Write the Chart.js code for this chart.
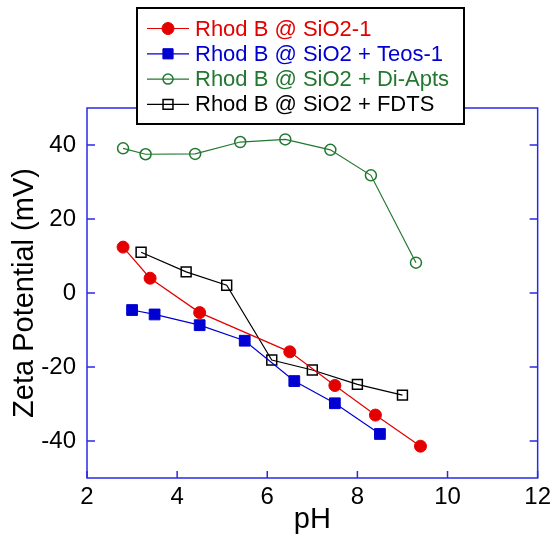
<!DOCTYPE html>
<html>
<head>
<meta charset="utf-8">
<script src="https://cdn.jsdelivr.net/npm/chart.js@4"></script>
<style>
html, body { margin: 0; padding: 0; background: #fff; }
#wrap { width: 556px; height: 537px; }
</style>
</head>
<body>
<div id="wrap"><canvas id="zetaChart"></canvas></div>
<script>
// values
const seriesNames = ['Rhod B @ SiO2-1', 'Rhod B @ SiO2 + Teos-1', 'Rhod B @ SiO2 + Di-Apts', 'Rhod B @ SiO2 + FDTS'];
const phSiO2 = [2.8, 3.4, 4.5, 6.5, 7.5, 8.4, 9.4];
const zetaSiO2 = [12.4, 4.0, -5.3, -15.9, -25.0, -33.0, -41.4];
const phTeos = [3.0, 3.5, 4.5, 5.5, 6.6, 7.5, 8.5];
const zetaTeos = [-4.6, -5.8, -8.7, -12.9, -23.8, -29.8, -38.1];
const phApts = [2.8, 3.3, 4.4, 5.4, 6.4, 7.4, 8.3, 9.3];
const zetaApts = [39.1, 37.5, 37.6, 40.8, 41.5, 38.7, 31.8, 8.2];
const phFdts = [3.2, 4.2, 5.1, 6.1, 7.0, 8.0, 9.0];
const zetaFdts = [11.0, 5.7, 2.1, -18.1, -20.8, -24.7, -27.6];
const xTicks = [2, 4, 6, 8, 10, 12];
const yTicks = [-40, -20, 0, 20, 40];

const FONT = 'Arial, "Liberation Sans", sans-serif';
const AXIS_COLOR = '#2a2ae4';

const toPoints = (xs, ys) => xs.map((x, i) => ({ x: x, y: ys[i] }));

// box around plot with inward tick marks
const framePlugin = {
    id: 'frame',
    afterDatasetsDraw(chart) {
        const { ctx, chartArea: a, scales } = chart;
        ctx.save();
        ctx.strokeStyle = AXIS_COLOR;
        ctx.lineWidth = 1.5;
        ctx.strokeRect(a.left, a.top, a.right - a.left, a.bottom - a.top);
        ctx.beginPath();
        yTicks.forEach(v => {
            const y = scales.y.getPixelForValue(v);
            ctx.moveTo(a.left, y); ctx.lineTo(a.left + 8, y);
            ctx.moveTo(a.right, y); ctx.lineTo(a.right - 8, y);
        });
        xTicks.forEach(v => {
            const x = scales.x.getPixelForValue(v);
            ctx.moveTo(x, a.bottom); ctx.lineTo(x, a.bottom - 7);
        });
        ctx.stroke();
        ctx.restore();
    }
};

// boxed legend overlapping the top of the plot
const legendPlugin = {
    id: 'boxLegend',
    afterDraw(chart) {
        const ctx = chart.ctx;
        ctx.save();
        ctx.fillStyle = '#fff';
        ctx.fillRect(137, 8, 327, 116);
        ctx.strokeStyle = '#000';
        ctx.lineWidth = 2;
        ctx.strokeRect(137, 8, 327, 116);
        ctx.font = '22px ' + FONT;
        ctx.textBaseline = 'middle';
        chart.data.datasets.forEach((ds, i) => {
            const y = 28.5 + i * 25.3;
            ctx.strokeStyle = ds.borderColor;
            ctx.lineWidth = 1.2;
            ctx.beginPath();
            ctx.moveTo(147, y); ctx.lineTo(189, y);
            ctx.stroke();
            ctx.fillStyle = ds.pointBackgroundColor;
            ctx.strokeStyle = ds.pointBorderColor;
            ctx.lineWidth = ds.pointBorderWidth;
            Chart.helpers.drawPoint(ctx, {
                pointStyle: ds.pointStyle,
                radius: ds.legendRadius,
                borderWidth: ds.pointBorderWidth,
                rotation: 0
            }, 168, y);
            ctx.fillStyle = ds.borderColor;
            ctx.fillText(ds.label, 195, y + 1);
        });
        ctx.restore();
    }
};

const red = 'rgb(228,0,0)';
const blue = 'rgb(0,0,210)';
const green = 'rgb(34,120,48)';
const black = 'rgb(0,0,0)';

const ctx = document.getElementById('zetaChart').getContext('2d');
const zetaChart = new Chart(ctx, {
    type: 'scatter',
    data: {
        datasets: [
            {
                label: seriesNames[0],
                data: toPoints(phSiO2, zetaSiO2),
                showLine: true,
                borderColor: red,
                borderWidth: 1.2,
                pointStyle: 'circle',
                pointRadius: 6,
                legendRadius: 6,
                pointBackgroundColor: red,
                pointBorderColor: red,
                pointBorderWidth: 1
            },
            {
                label: seriesNames[1],
                data: toPoints(phTeos, zetaTeos),
                showLine: true,
                borderColor: blue,
                borderWidth: 1.2,
                pointStyle: 'rect',
                pointRadius: 7.6,
                legendRadius: 7.2,
                pointBackgroundColor: blue,
                pointBorderColor: blue,
                pointBorderWidth: 1
            },
            {
                label: seriesNames[2],
                data: toPoints(phApts, zetaApts),
                showLine: true,
                borderColor: green,
                borderWidth: 1.2,
                pointStyle: 'circle',
                pointRadius: 5.5,
                legendRadius: 5,
                pointBackgroundColor: 'rgba(0,0,0,0)',
                pointBorderColor: green,
                pointBorderWidth: 1.5
            },
            {
                label: seriesNames[3],
                data: toPoints(phFdts, zetaFdts),
                showLine: true,
                borderColor: black,
                borderWidth: 1.2,
                pointStyle: 'rect',
                pointRadius: 7,
                legendRadius: 7,
                pointBackgroundColor: 'rgba(0,0,0,0)',
                pointBorderColor: black,
                pointBorderWidth: 1.5
            }
        ]
    },
    options: {
        responsive: true,
        maintainAspectRatio: false,
        animation: false,
        layout: { padding: { top: 108, right: 15, left: 0, bottom: 0 } },
        plugins: {
            legend: { display: false },
            tooltip: { enabled: false }
        },
        scales: {
            x: {
                type: 'linear',
                min: 2,
                max: 12,
                afterBuildTicks: s => { s.ticks = xTicks.map(v => ({ value: v })); },
                afterFit: s => { s.height = 59; },
                grid: { display: false, drawTicks: false },
                border: { display: false },
                ticks: { color: '#000', font: { family: FONT, size: 24 }, padding: 5 },
                title: { display: true, text: 'pH', color: '#000', font: { family: FONT, size: 29 }, padding: { top: 0, bottom: 0 } }
            },
            y: {
                type: 'linear',
                min: -50,
                max: 50,
                afterBuildTicks: s => { s.ticks = yTicks.map(v => ({ value: v })); },
                afterFit: s => { s.width = 87; },
                grid: { display: false, drawTicks: false },
                border: { display: false },
                ticks: { color: '#000', font: { family: FONT, size: 24 }, padding: 11 },
                title: { display: true, text: 'Zeta Potential (mV)', color: '#000', font: { family: FONT, size: 29 }, padding: { top: 8, bottom: 0 } }
            }
        }
    },
    plugins: [framePlugin, legendPlugin]
});
</script>
</body>
</html>
